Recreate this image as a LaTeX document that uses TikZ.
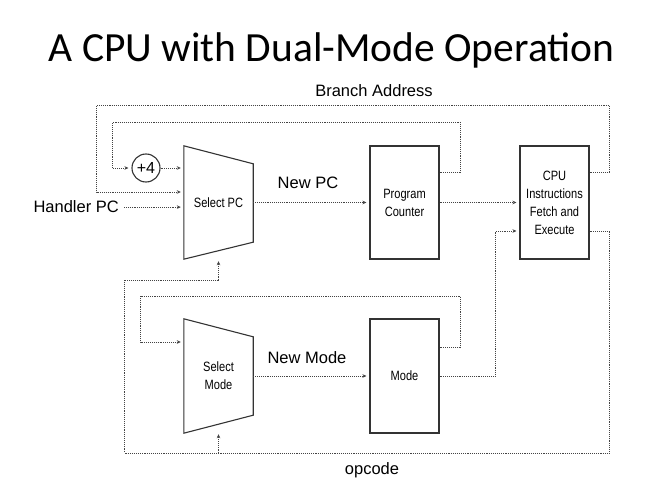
\documentclass[tikz,border=0pt]{standalone}
\usepackage{fontspec}
\setmainfont{Liberation Sans}
\newfontfamily\titlefont{Carlito}
\newfontfamily\condfont[FakeStretch=0.82]{Liberation Sans}
\usetikzlibrary{calc,
	positioning,
	arrows.meta}
\definecolor{boxgray}{HTML}{333333}
\definecolor{linegray}{HTML}{444444}

\begin{document}
\begin{tikzpicture}[x=1pt,y=-1pt,
	block/.style={draw=boxgray,line width=1.1pt,minimum width=69pt,minimum height=113pt,inner sep=0pt,align=center,font=\condfont\fontsize{13.5}{18}\selectfont},
	muxbox/.style={minimum width=69pt,minimum height=113pt,inner sep=0pt,align=center,font=\condfont\fontsize{13.5}{18}\selectfont},
	muxline/.style={draw=boxgray,line width=1.1pt,line join=miter},
	conn/.style={draw=linegray,line width=0.9pt,dash pattern=on 0.9pt off 1pt,-{Stealth[length=4pt,width=3.6pt]},shorten >=3pt},
	lbl/.style={inner sep=0pt,font=\fontsize{16.5}{20}\selectfont}]
	\useasboundingbox (0,0) rectangle (672,494);
	% Texts
	\node[lbl,font=\titlefont\fontsize{41.5}{46}\selectfont,anchor=base] (title) at (331.5,62) {A CPU with Dual-Mode Operation};
	\node[lbl,anchor=base] (branch) at (374,97) {Branch Address};
	\node[lbl,anchor=base east] (handler) at (119,213) {Handler PC};
	\node[lbl,anchor=base] (newpc) at (308,189) {New PC};
	\node[lbl,anchor=base] (newmode) at (307,363) {New Mode};
	\node[lbl,anchor=base] (opcode) at (372,474) {opcode};
	% /Texts
	\node[muxbox] (selpc) at (218.5,202.5) {Select PC};
	\node[block] (pc) at (404.5,202.5) {Program\\Counter};
	\node[block] (cpu) at (554.5,202.5) {CPU\\Instructions\\Fetch and\\Execute};
	\node[muxbox,minimum height=114pt] (selmode) at (218.5,376) {Select\\Mode};
	\node[block,minimum height=114pt] (mode) at (404.5,376) {Mode};
	\node[draw=boxgray,line width=1.1pt,circle,minimum size=28pt,inner sep=0pt,font=\fontsize{16}{18}\selectfont] (plus) at (146,168) {+4};
	\draw[muxline] (selpc.north west) -- ($(selpc.north east)+(0,18)$) -- ($(selpc.south east)+(0,-17)$) -- (selpc.south west) -- cycle;
	\draw[muxline] (selmode.north west) -- ($(selmode.north east)+(0,18)$) -- ($(selmode.south east)+(0,-18)$) -- (selmode.south west) -- cycle;
	\coordinate (pcfb) at ($(pc.north east)+(0,27)$);
	\coordinate (cpufb) at ($(cpu.north east)+(0,27)$);
	\coordinate (cpuop) at ($(cpu.south east)+(0,-28)$);
	\coordinate (modefb) at ($(mode.north east)+(0,29)$);
	% Connectors
	\draw[conn,shorten <=5pt] (handler.east) -- (handler.east -| selpc.west);
	\draw[conn] (plus.east) -- (plus.east -| selpc.west);
	\draw[conn] (pcfb) -- ++(21,0) -- ++(0,-50) -| ($(plus.west)+(-19,0)$) -- (plus.west);
	\draw[conn] (cpufb) -- ++(20,0) -- ++(0,-67) -| ($(selpc.west)+(-87,-10.5)$) -- ($(selpc.west)+(0,-10.5)$);
	\draw[conn] (selpc.east) -- (pc.west);
	\draw[conn] (pc.east) -- (cpu.west);
	\draw[conn] (cpuop) -- ++(20,0) |- ($(selmode.south)+(-94,20)$) |- ($(selpc.south)+(0,21)$) -- ($(selpc.south)+(0,-1)$);
	\draw[conn] ($(selmode.south)+(0,20)$) -- ($(selmode.south)+(0,-2)$);
	\draw[conn] (selmode.east) -- (mode.west);
	\draw[conn] (modefb) -- ++(21,0) -- ++(0,-51) -| ($(selmode.west)+(-43,-34)$) -- ($(selmode.west)+(0,-34)$);
	\draw[conn] (mode.east) -- ++(56,0) |- ($(cpu.west)+(0,28.5)$);
\end{tikzpicture}
\end{document}
